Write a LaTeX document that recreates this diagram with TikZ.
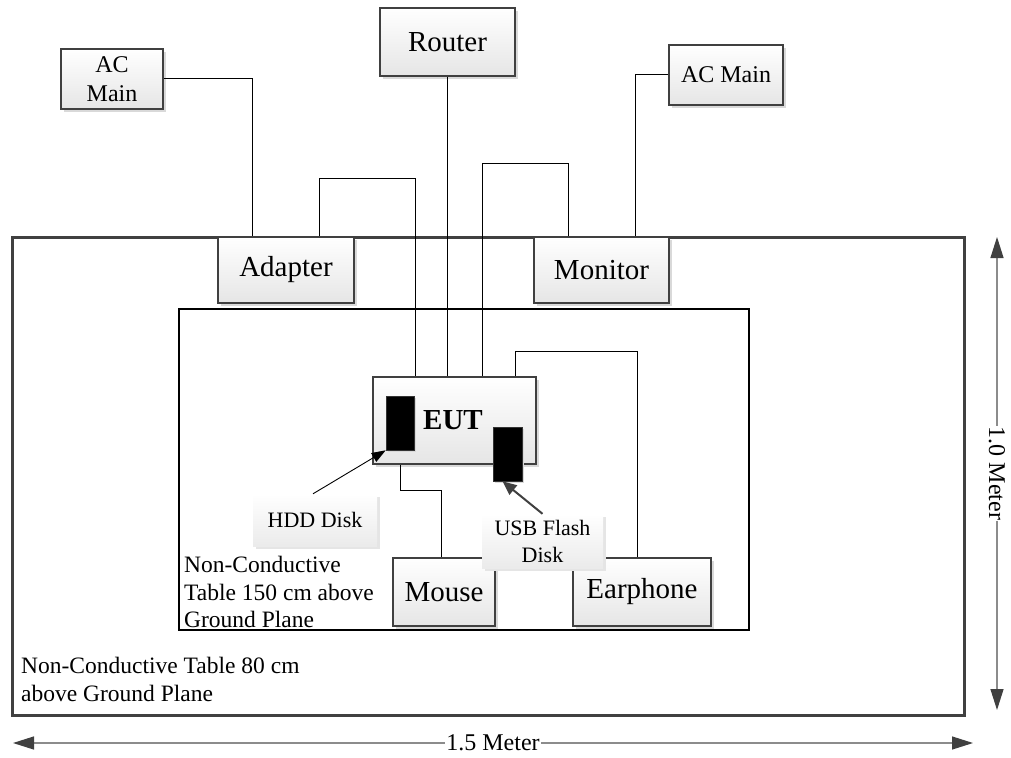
\documentclass[tikz,border=0pt]{standalone}
\usepackage{fontspec}
\setmainfont{Liberation Serif}
\usetikzlibrary{arrows.meta,shadows,calc}
\begin{document}
\begin{tikzpicture}[x=1pt,y=-1pt,
  dev/.style={draw=black!75, line width=2pt, top color=white, bottom color=black!10,
    drop shadow={shadow xshift=3pt, shadow yshift=-3pt, fill=black!15, opacity=1},
    inner sep=0pt, align=center, font=\fontsize{29}{33}\selectfont},
  small/.style={font=\fontsize{24}{29}\selectfont},
  lbl/.style={draw=none, top color=white, bottom color=black!8,
    drop shadow={shadow xshift=3pt, shadow yshift=-3pt, fill=black!10, opacity=1},
    inner sep=0pt, align=center, font=\fontsize{22}{27}\selectfont},
  blk/.style={fill=black, draw=black!80, line width=0.6pt, inner sep=0pt,
    drop shadow={shadow xshift=2pt, shadow yshift=-2pt, fill=black!15, opacity=1}},
  wire/.style={draw=black, line width=1pt},
  dim/.style={draw=black!45, line width=1.3pt,
    {Triangle[length=21pt,width=13pt,color=black!75]}-{Triangle[length=21pt,width=13pt,color=black!75]}},
  dimtext/.style={fill=white, inner sep=1pt, font=\fontsize{24}{27}\selectfont},
  note/.style={align=left, inner sep=0pt, anchor=west}
]
\useasboundingbox (0,0) rectangle (1011,757);

% tables
\draw[draw=black!75, line width=3pt] (12,237) rectangle (964,715);
\draw[draw=black, line width=1.5pt] (179,309) rectangle (749,630);

\node[note, font=\fontsize{23.5}{28}\selectfont] (outerlbl) at (21,679)
  {Non-Conductive Table 80 cm\\above Ground Plane};
\node[note, font=\fontsize{23.5}{27.5}\selectfont] (innerlbl) at (184,592)
  {Non-Conductive\\Table 150 cm above\\Ground Plane};

% junction coordinates
\coordinate (j1) at (415,178);
\coordinate (j2) at (482,163);
\coordinate (j3) at (637,351);
\coordinate (j4) at (441,490);

% devices
\node[dev, small, minimum width=102pt, minimum height=60pt] (acL) at (112,79) {AC\\Main};
\node[dev, minimum width=135pt, minimum height=68pt] (router) at (447.5,42) {Router};
\node[dev, small, minimum width=114pt, minimum height=60pt] (acR) at (726,75) {AC Main};
\node[dev, minimum width=136pt, minimum height=66pt] (adapter) at (286,270) {Adapter};
\node[dev, minimum width=135pt, minimum height=66pt] (monitor) at (601.5,270) {Monitor};
\node[dev, minimum width=163pt, minimum height=87pt] (eut) at (454.5,420.5) {};
\node[font=\fontsize{29}{33}\selectfont\bfseries, inner sep=0pt] (euttext) at (453,420) {EUT};
\node[dev, minimum width=102pt, minimum height=68pt] (mouse) at (444,592) {Mouse};
\node[dev, minimum width=138pt, minimum height=68pt] (earphone) at (642,592) {Earphone};

\node[blk, minimum width=28pt, minimum height=54pt] (hdd) at (400,423) {};
\node[blk, minimum width=29pt, minimum height=54pt] (usb) at (507.5,454) {};

\node[lbl, minimum width=124pt, minimum height=52pt] (hddlbl) at (315,520) {HDD Disk};
\node[lbl, minimum width=121pt, minimum height=54pt] (usblbl) at (542.5,541) {USB Flash\\Disk};

% wires
\draw[wire] (acL.east) -| ([xshift=35pt]adapter.north west);
\draw[wire] (router.south) -- (router.south |- eut.north);
\draw[wire] ([xshift=102pt]adapter.north west) |- (j1) -- (j1 |- eut.north);
\draw[wire] ([xshift=35pt]monitor.north west) |- (j2) -- (j2 |- eut.north);
\draw[wire] (acR.west) -| ([xshift=102pt]monitor.north west);
\draw[wire] ([xshift=143pt]eut.north west) |- (j3) -- (j3 |- earphone.north);
\draw[wire] ([xshift=28pt]eut.south west) |- (j4) -- (j4 |- mouse.north);

% pointer arrows
\draw[black, line width=0.9pt, -{Triangle[length=14pt,width=10pt]}] ([xshift=-2pt]hddlbl.north) -- (hdd.south west);
\draw[black!75, line width=2pt, -{Triangle[length=14pt,width=12pt]}] (usblbl.north) -- ([xshift=-5pt]usb.south);

% dimensions
\coordinate (hL) at (13,743);
\coordinate (hR) at (973,743);
\coordinate (vT) at (997,237);
\coordinate (vB) at (997,710);
\draw[dim] (hL) -- node[dimtext] (hlab) {1.5 Meter} (hR);
\draw[dim] (vT) -- node[dimtext, rotate=-90] (vlab) {1.0 Meter} (vB);
\end{tikzpicture}
\end{document}
